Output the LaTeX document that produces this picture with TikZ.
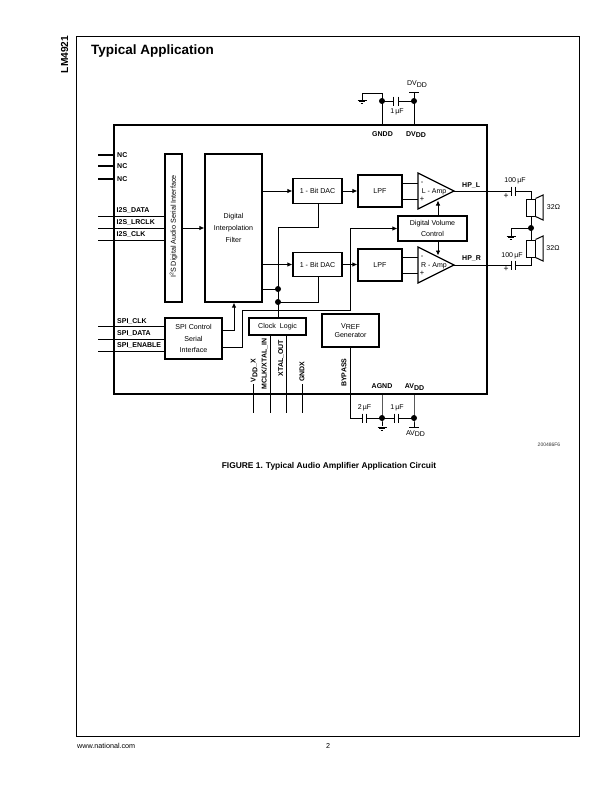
\documentclass[tikz,border=0pt]{standalone}
\usepackage{fontspec}
\setmainfont{Liberation Sans}
\usetikzlibrary{arrows.meta,calc}
\newcommand{\fsz}[1]{\fontsize{#1}{#1}\selectfont}
\newcommand{\sbs}[1]{\raisebox{-1.8pt}{#1}}
\tikzset{
  blk/.style={draw,line width=1.2pt,inner sep=0pt,align=center,font=\fsz{7.1}},
  amp/.style={draw,line width=1.2pt,line join=miter},
  wire/.style={draw,line width=0.9pt},
  heavy/.style={draw,line width=1.1pt},
  arr/.style={draw,line width=0.9pt,-{Latex[length=5pt,width=4.6pt]}},
  pin/.style={font=\bfseries\fsz{7},inner sep=0pt,anchor=west},
  vpin/.style={font=\bfseries\fsz{7},inner sep=0pt,rotate=90,anchor=west},
  cpin/.style={font=\bfseries\fsz{7},inner sep=0pt},
  plain/.style={font=\fsz{7},inner sep=0pt},
  dotn/.style={circle,fill=black,inner sep=0pt,minimum size=6pt},
  plate/.style={draw,line width=1pt},
}
\newcommand{\gnd}[1]{%
  \draw[line width=0.9pt] ($(#1)+(-4.5,0)$) -- ($(#1)+(4.5,0)$);
  \draw[line width=0.9pt] ($(#1)+(-3,1.7)$) -- ($(#1)+(3,1.7)$);
  \draw[line width=0.9pt] ($(#1)+(-1.3,3.4)$) -- ($(#1)+(1.3,3.4)$);}
\begin{document}
\begin{tikzpicture}[x=1pt,y=-1pt]
\useasboundingbox (0,0) rectangle (612,792);
% page frame
\coordinate (fa) at (76,36); \coordinate (fb) at (579,736);
\draw[line width=0.8pt] (fa) rectangle (fb);
\node[font=\bfseries\fsz{10.2},inner sep=0pt,rotate=90] (partno) at (64.5,54.5) {LM4921};
\node[font=\bfseries\fsz{13.5},inner sep=0pt,anchor=west] (title) at (91,51) {Typical Application};
% chip
\node[draw,line width=1.2pt,minimum width=373pt,minimum height=269pt,inner sep=0pt] (chip) at (300.5,259.5) {};
% blocks
\node[blk,minimum width=17pt,minimum height=148pt] (i2s) at (173.5,228) {};
\node[font=\fsz{7.2},inner sep=0pt,rotate=90] (i2stxt) at (173.5,226.5) {I\raisebox{2.4pt}{\fsz{5.2}2}S Digital Audio Serial Interface};
\node[blk,minimum width=57pt,minimum height=148pt] (filter) at (233.5,228) {Digital\\[4.6pt]Interpolation\\[4.6pt]Filter};
\node[blk,minimum width=49pt,minimum height=24.5pt] (dac1) at (317.5,191) {1 - Bit DAC};
\node[blk,minimum width=49pt,minimum height=24.5pt] (dac2) at (317.5,264.5) {1 - Bit DAC};
\node[blk,minimum width=44pt,minimum height=32pt] (lpf1) at (380,191) {LPF};
\node[blk,minimum width=44pt,minimum height=32pt] (lpf2) at (380,265) {LPF};
\node[blk,minimum width=69pt,minimum height=25pt] (vol) at (432.5,228.5) {Digital Volume\\[4pt]Control};
\node[blk,minimum width=57pt,minimum height=41pt] (spi) at (193.5,338.5) {SPI Control\\[4pt]Serial\\[4pt]Interface};
\node[blk,minimum width=57pt,minimum height=17pt] (clk) at (277.5,326.5) {Clock\ \ Logic};
\node[blk,minimum width=57pt,minimum height=33pt] (vref) at (350.5,330.5) {V\raisebox{-1.8pt}{REF}\\[2.5pt]Generator};
% amplifiers
\coordinate (lt) at (418,173); \coordinate (lb) at (418,209); \coordinate (ltip) at (454,191);
\coordinate (rt) at (418,247); \coordinate (rb) at (418,283); \coordinate (rtip) at (454,265);
\draw[amp] (lt) -- (ltip) -- (lb) -- cycle;
\draw[amp] (rt) -- (rtip) -- (rb) -- cycle;
\node[plain] (ampl) at (434,191.5) {L - Amp};
\node[plain] (ampr) at (434,265.5) {R - Amp};
\node[plain,font=\fsz{7.5}] (lm) at (422,183) {-};
\node[plain,font=\fsz{7.5}] (lp) at (422,199) {+};
\node[plain,font=\fsz{7.5}] (rm) at (422,257) {-};
\node[plain,font=\fsz{7.5}] (rp) at (422,273) {+};
% left pins
\foreach \nm/\yy/\tx in {nca/155/NC,ncb/166/NC,ncc/179/NC}{
  \coordinate (\nm) at (98,\yy);
  \draw[heavy] (\nm) -- (chip.west |- \nm);
  \node[pin] at (117,\yy) {\tx};
}
\foreach \nm/\yy/\ty/\tx in {ia/216/210/I2S\_DATA,ib/228/222/I2S\_LRCLK,ic/240/234.5/I2S\_CLK}{
  \coordinate (\nm) at (98,\yy);
  \draw[wire] (\nm) -- (i2s.west |- \nm);
  \node[pin] at (116.5,\ty) {\tx};
}
\foreach \nm/\yy/\ty/\tx in {sa/326/321/SPI\_CLK,sb/339/333/SPI\_DATA,sc/351/345.5/SPI\_ENABLE}{
  \coordinate (\nm) at (98,\yy);
  \draw[wire] (\nm) -- (spi.west |- \nm);
  \node[pin] at (117,\ty) {\tx};
}
% signal path
\draw[arr] (i2s.east) -- (filter.west);
\draw[arr] (filter.east |- dac1.west) -- (dac1.west);
\draw[arr] (filter.east |- dac2.west) -- (dac2.west);
\draw[arr] (dac1.east) -- (lpf1.west);
\draw[arr] (dac2.east) -- (lpf2.west |- dac2.east);
\coordinate (la) at (lt |- 0,183); \coordinate (lc) at (lt |- 0,199);
\coordinate (ra) at (lt |- 0,257); \coordinate (rc) at (lt |- 0,273);
\draw[wire] (lpf1.east |- la) -- (la);
\draw[wire] (lpf1.east |- lc) -- (lc);
\draw[wire] (lpf2.east |- ra) -- (ra);
\draw[wire] (lpf2.east |- rc) -- (rc);
\coordinate (vu) at (438,216); \coordinate (vut) at (438,200.5);
\coordinate (vd) at (438,241); \coordinate (vdt) at (438,255.5);
\draw[arr] (vu) -- (vut);
\draw[arr] (vd) -- (vdt);
% clock tree
\coordinate (j1) at (278,289); \coordinate (j2) at (278,302); \coordinate (ctop) at (278,227);
\coordinate (d1b) at (318,227); \coordinate (d2b) at (318,302);
\draw[wire] (clk.north -| j1) -- (ctop) -- (d1b) -- (dac1.south -| d1b);
\draw[wire] (j2) -- (d2b) -- (dac2.south -| d2b);
\draw[wire] (filter.east |- j1) -- (j1);
\node[dotn] (dj1) at (j1) {};
\node[dotn] (dj2) at (j2) {};
% SPI connections
\coordinate (s1) at (234,330); \coordinate (s2) at (242,347); \coordinate (s3) at (242,310); \coordinate (s4) at (350,310); \coordinate (s5) at (350,228.5);
\draw[arr] (spi.east |- s1) -- (s1) -- (filter.south -| s1);
\draw[arr] (spi.east |- s2) -- (s2) -- (s3) -- (s4) -- (s5) -- (vol.west);
% bottom pins
\coordinate (pa) at (253,384); \coordinate (pae) at (253,413);
\coordinate (pb) at (270,335); \coordinate (pbe) at (270,413);
\coordinate (pc) at (286,335); \coordinate (pce) at (286,413);
\coordinate (pd) at (302,384); \coordinate (pde) at (302,413);
\draw[wire] (pa) -- (pae);
\draw[wire] (pb) -- (pbe);
\draw[wire] (pc) -- (pce);
\draw[wire] (pd) -- (pde);
\node[vpin] (vddx) at (254,382.5) {V\sbs{DD}\_X};
\node[vpin] (mclk) at (264.5,389.5) {MCLK/XTAL\_IN};
\node[vpin] (xtal) at (281,376.5) {XTAL\_OUT};
\node[vpin] (gndx) at (302,382) {GNDX};
\node[vpin] (byp) at (344,387) {BYPASS};
\node[cpin] (agnd) at (382,386) {AGND};
\node[cpin] (avddl) at (414.5,387) {AV\sbs{DD}};
% bottom caps
\coordinate (bc) at (350,418); \coordinate (agj) at (382,418); \coordinate (avj) at (414,418);
\coordinate (c2a) at (362,418); \coordinate (c2b) at (366,418);
\coordinate (c3a) at (394,418); \coordinate (c3b) at (398,418);
\draw[wire] (vref.south -| bc) -- (bc) -- (c2a);
\draw[wire] (c2b) -- (c3a);
\draw[wire] (c3b) -- (avj);
\draw[wire] (chip.south -| agj) -- (agj) -- +(0,8);
\draw[wire] (chip.south -| avj) -- (avj) -- +(0,9);
\draw[plate] (362,413.5) -- (362,422.5);
\draw[plate] (366,413.5) -- (366,422.5);
\draw[plate] (394,413.5) -- (394,422.5);
\draw[plate] (398,413.5) -- (398,422.5);
\node[dotn] (dag) at (agj) {};
\node[dotn] (dav) at (avj) {};
\gnd{382,427}
\draw[wire] (409,427) -- (419,427);
\node[plain] (c2l) at (364.5,407.5) {2\,µF};
\node[plain] (c3l) at (397,407.5) {1\,µF};
\node[plain] (avddb) at (415.5,433.5) {AV\sbs{DD}};
% top caps
\coordinate (tg) at (382,101); \coordinate (tv) at (414,101);
\coordinate (tgt) at (382,93); \coordinate (tgl) at (362,93);
\draw[wire] (chip.north -| tg) -- (tgt) -- (tgl) -- (362,100);
\draw[wire] (chip.north -| tv) -- (414,92);
\draw[wire] (409,92) -- (419,92);
\draw[wire] (tg) -- (393,101);
\draw[wire] (398,101) -- (tv);
\draw[plate] (393,96.5) -- (393,105.5);
\draw[plate] (398,96.5) -- (398,105.5);
\node[dotn] (dtg) at (tg) {};
\node[dotn] (dtv) at (tv) {};
\gnd{362,100}
\node[plain] (dvtop) at (417,84) {DV\sbs{DD}};
\node[plain] (c1l) at (397,112) {1\,µF};
\node[cpin] (gndd) at (382.5,134) {GNDD};
\node[cpin] (dvdd) at (416,134.5) {DV\sbs{DD}};
% outputs
\node[pin] (hpl) at (462,185.5) {HP\_L};
\node[pin] (hpr) at (462,259) {HP\_R};
\coordinate (oa) at (511,191); \coordinate (ob) at (515,191); \coordinate (oc) at (531,191);
\coordinate (pa2) at (511,265); \coordinate (pb2) at (515,265); \coordinate (pc2) at (531,265);
\draw[wire] (ltip) -- (oa);
\draw[wire] (rtip) -- (pa2);
\draw[plate] (511,186.5) -- (511,195.5);
\draw[plate] (515,186.5) -- (515,195.5);
\draw[plate] (511,260.5) -- (511,269.5);
\draw[plate] (515,260.5) -- (515,269.5);
\node[plain] (c4l) at (515,181) {100\,µF};
\node[plain] (c5l) at (512,256) {100\,µF};
\node[plain,font=\fsz{8.5}] (pl1) at (506,196) {+};
\node[plain,font=\fsz{8.5}] (pl2) at (506,269) {+};
% speakers
\node[draw,line width=1pt,minimum width=9pt,minimum height=17pt,inner sep=0pt] (spk1) at (530.5,207.5) {};
\node[draw,line width=1pt,minimum width=9pt,minimum height=17pt,inner sep=0pt] (spk2) at (530.5,248.5) {};
\draw[line width=1pt] (spk1.north east) -- (543,195) -- (543,220) -- (spk1.south east);
\draw[line width=1pt] (spk2.north east) -- (543,236) -- (543,261) -- (spk2.south east);
\coordinate (sj) at (531,228); \coordinate (sg) at (511,228);
\draw[wire] (ob) -- (oc) -- (spk1.north -| oc);
\draw[wire] (spk2.south -| pc2) -- (pc2) -- (pb2);
\draw[wire] (spk1.south -| sj) -- (spk2.north -| sj);
\draw[wire] (sj) -- (sg) -- (511,236);
\node[dotn] (dsj) at (sj) {};
\gnd{511,236}
\node[plain] (o1) at (553.5,207) {32Ω};
\node[plain] (o2) at (553,248) {32Ω};
% captions
\node[font=\fsz{5},inner sep=0pt,text=black!80] (fnum) at (549,445) {200486F6};
\node[font=\bfseries\fsz{8.4},inner sep=0pt] (cap) at (329,466) {FIGURE 1. Typical Audio Amplifier Application Circuit};
\node[font=\fsz{7.2},inner sep=0pt,anchor=west] (web) at (77,746) {www.national.com};
\node[font=\fsz{7.2},inner sep=0pt] (pg) at (328,746) {2};
\end{tikzpicture}
\end{document}
